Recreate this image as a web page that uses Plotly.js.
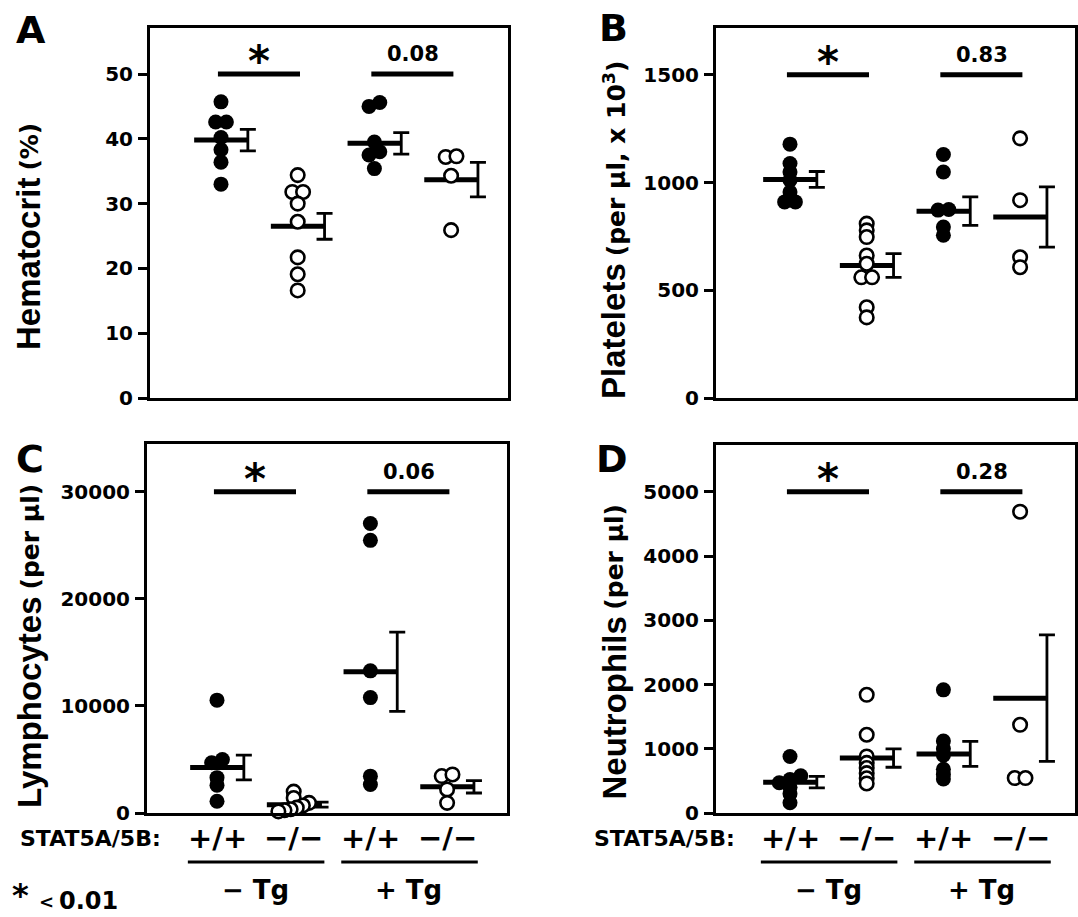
<!DOCTYPE html>
<html>
<head>
<meta charset="utf-8">
<script src="https://cdn.plot.ly/plotly-3.0.1.min.js"></script>
<style>html,body{margin:0;padding:0;background:#fff;}#chart{width:1078px;height:917px;}</style>
</head>
<body>
<div id="chart"></div>
<script>
// ---------------- DATA ----------------
const groupLabels = ['+/+', '\u2212/\u2212', '+/+', '\u2212/\u2212'];
const tgLabels = ['\u2212 Tg', '+ Tg'];
const genotypeLabel = 'STAT5A/5B:';
const footStar = '*';
const footLess = '<';
const footValue = '0.01';

// y-axis titles: main word and unit
const titleMain = ['Hematocrit', 'Platelets', 'Lymphocytes', 'Neutrophils'];
const titleUnit = ['(%)', '(per \u00b5l, x 10<sup>3</sup>)', '(per \u00b5l)', '(per \u00b5l)'];

// Panel A: Hematocrit (%)
const hctG1 = [45.7, 42.6, 42.6, 40.2, 38.3, 36.4, 33.0];
const hctG2 = [34.4, 31.8, 31.8, 30.0, 27.2, 21.7, 19.1, 16.6];
const hctG3 = [45.6, 45.0, 39.5, 38.0, 37.5, 35.4];
const hctG4 = [37.2, 37.3, 34.3, 25.9];
const hctMean = [39.8, 26.5, 39.3, 33.7];
const hctSem = [1.65, 2.0, 1.65, 2.65];
const hctP = ['*', '0.08'];
const hctTicks = [0, 10, 20, 30, 40, 50];

// Panel B: Platelets (per ul x 10^3)
const pltG1 = [1178, 1088, 1049, 1011, 956, 910, 910];
const pltG2 = [809, 778, 747, 661, 623, 560, 560, 421, 374];
const pltG3 = [1130, 1049, 875, 872, 793, 755];
const pltG4 = [1205, 918, 653, 607];
const pltMean = [1014, 615, 867, 840];
const pltSem = [37, 55, 66, 140];
const pltP = ['*', '0.83'];
const pltTicks = [0, 500, 1000, 1500];

// Panel C: Lymphocytes (per ul)
const lymG1 = [10540, 5000, 4700, 3300, 2600, 1100];
const lymG2 = [2000, 1400, 950, 700, 500, 350, 250, 150];
const lymG3 = [27040, 25470, 13280, 10780, 3440, 2660];
const lymG4 = [3450, 3600, 2200, 950];
const lymMean = [4250, 780, 13200, 2450];
const lymSem = [1150, 230, 3700, 580];
const lymP = ['*', '0.06'];
const lymTicks = [0, 10000, 20000, 30000];

// Panel D: Neutrophils (per ul)
const neuG1 = [880, 580, 520, 470, 400, 300, 160];
const neuG2 = [1840, 1218, 880, 780, 700, 620, 540, 460];
const neuG3 = [1917, 1120, 1000, 900, 680, 600, 530];
const neuG4 = [4690, 1373, 544, 544];
const neuMean = [480, 855, 920, 1788];
const neuSem = [90, 143, 195, 985];
const neuP = ['*', '0.28'];
const neuTicks = [0, 1000, 2000, 3000, 4000, 5000];

// ---------------- LAYOUT HELPERS ----------------
const W = 1078, H = 917;
const FONT = 'DejaVu Sans';
const TFONT = 'Liberation Sans';
const px = x => x / W;
const py = y => 1 - y / H;
const B = s => '<b>' + s + '</b>';

const ctx = document.createElement('canvas').getContext('2d');
function textWidth(s, size, family) {
  ctx.font = 'bold ' + size + 'px "' + family + '"';
  return ctx.measureText(s).width;
}

const panels = [
  {key:'', letter:'A', box:[150,508,28,398], g1px:221, yTop:57.1, groups:[hctG1,hctG2,hctG3,hctG4], mean:hctMean, sem:hctSem, p:hctP, ticks:hctTicks, sigLevel:50,
   titleX:29, titleBottom:352, letterPos:[31,30]},
  {key:'2', letter:'B', box:[716,1075,28,398], g1px:790, yTop:1717, groups:[pltG1,pltG2,pltG3,pltG4], mean:pltMean, sem:pltSem, p:pltP, ticks:pltTicks, sigLevel:1500,
   titleX:614, titleBottom:401, letterPos:[613,28]},
  {key:'3', letter:'C', box:[147,507,444,813], g1px:217, yTop:34470, groups:[lymG1,lymG2,lymG3,lymG4], mean:lymMean, sem:lymSem, p:lymP, ticks:lymTicks, sigLevel:30000,
   titleX:29, titleBottom:810, letterPos:[30,459], bottom:true, genoRight:163},
  {key:'4', letter:'D', box:[716,1075,445,813], g1px:790, yTop:5728, groups:[neuG1,neuG2,neuG3,neuG4], mean:neuMean, sem:neuSem, p:neuP, ticks:neuTicks, sigLevel:5000,
   titleX:614, titleBottom:802, letterPos:[612,459], bottom:true, genoRight:737}
];

const SPACING = 76.7; // px per group
const TMAIN = 33, TUNIT = 25;

function swarmOffsets(vals, pxPerUnit) {
  const idx = vals.map((v,i)=>i).sort((a,b)=>vals[a]-vals[b]);
  const offs = new Array(vals.length).fill(0);
  let row = [idx[0]];
  const flush = () => {
    const k = row.length;
    if (k > 1) {
      const step = Math.min(0.14, 0.4/(k-1));
      row.forEach((j,i)=>{ offs[j] = (i-(k-1)/2)*step; });
    }
  };
  for (let n=1;n<idx.length;n++){
    const j = idx[n], prev = idx[n-1];
    if ((vals[j]-vals[prev])*pxPerUnit < 4) row.push(j); else { flush(); row=[j]; }
  }
  flush();
  return offs;
}

const traces = [];
const shapes = [];
const annotations = [];
const layout = {
  width: W, height: H,
  margin: {l:0, r:0, t:0, b:0},
  paper_bgcolor: '#fff', plot_bgcolor: '#fff',
  showlegend: false,
  shapes: shapes, annotations: annotations
};

panels.forEach((P, pi) => {
  const [l, r, t, b] = P.box;
  const xa = 'x' + P.key, ya = 'y' + P.key;
  const xr = [1 - (P.g1px - l)/SPACING, 1 + (r - P.g1px)/SPACING];
  layout['xaxis' + P.key] = {
    domain:[px(l), px(r)], range: xr, anchor: ya,
    showline:true, mirror:true, linewidth:3, linecolor:'#000',
    showgrid:false, zeroline:false, showticklabels:false, ticks:'', fixedrange:true
  };
  layout['yaxis' + P.key] = {
    domain:[py(b), py(t)], range:[0, P.yTop], anchor: xa,
    showline:true, mirror:true, linewidth:3, linecolor:'#000',
    showgrid:false, zeroline:false,
    ticks:'outside', ticklen:9, tickwidth:3, tickcolor:'#000',
    tickmode:'array', tickvals:P.ticks, ticktext:P.ticks.map(v => B(String(v))),
    tickfont:{family:FONT, size:20, color:'#000'},
    ticklabelstandoff: 1, fixedrange:true
  };
  const pxPerUnit = (b - t) / P.yTop;

  // mean lines
  const mx = [], my = [];
  P.mean.forEach((m,i)=>{ mx.push(i+1-0.35, i+1+0.35, null); my.push(m, m, null); });
  traces.push({type:'scatter', mode:'lines', x:mx, y:my, xaxis:xa, yaxis:ya,
    line:{color:'#000', width:5}, hoverinfo:'skip', cliponaxis:false});
  // SEM bars
  traces.push({type:'scatter', mode:'markers', x:P.mean.map((m,i)=>i+1+0.35), y:P.mean, xaxis:xa, yaxis:ya,
    marker:{size:1, color:'rgba(0,0,0,0)'},
    error_y:{type:'data', array:P.sem, visible:true, color:'#000', thickness:2.8, width:8},
    hoverinfo:'skip', cliponaxis:false});
  // points
  P.groups.forEach((vals, g) => {
    const offs = swarmOffsets(vals, pxPerUnit);
    const filled = g % 2 === 0;
    traces.push({type:'scatter', mode:'markers', xaxis:xa, yaxis:ya,
      x: vals.map((v,i)=> g+1+offs[i]), y: vals,
      marker: filled ? {size:15, color:'#000', line:{width:0}} : {size:13.5, color:'#fff', line:{color:'#000', width:2.6}},
      hoverinfo:'skip', cliponaxis:false});
  });
  // significance bars and labels
  [[1,2],[3,4]].forEach((pair, k) => {
    shapes.push({type:'line', xref:xa, yref:ya, x0:pair[0]-0.04, x1:pair[1]+0.03, y0:P.sigLevel, y1:P.sigLevel,
      line:{color:'#000', width:5}});
    const isStar = P.p[k] === '*';
    annotations.push({xref:xa, yref:ya, x:(pair[0]+pair[1])/2, y:P.sigLevel, yanchor:'bottom', yshift: isStar ? -14 : 6,
      text: B(P.p[k]), showarrow:false,
      font:{family:FONT, size: isStar ? 42 : 21, color:'#000'}});
  });
  // panel letter
  annotations.push({xref:'paper', yref:'paper', x:px(P.letterPos[0]), y:py(P.letterPos[1]), xanchor:'center', yanchor:'middle',
    text:B(P.letter), showarrow:false, font:{family:FONT, size:38, color:'#000'}});
  // y title: main word + smaller unit, stacked along the rotated baseline
  const wMain = textWidth(titleMain[pi], TMAIN, TFONT);
  const wGap = 7;
  annotations.push({xref:'paper', yref:'paper', x:px(P.titleX), y:py(P.titleBottom), xanchor:'center', yanchor:'bottom',
    textangle:-90, text:B(titleMain[pi]), showarrow:false, font:{family:TFONT, size:TMAIN, color:'#000'}});
  annotations.push({xref:'paper', yref:'paper', x:px(P.titleX + 1), y:py(P.titleBottom - wMain - wGap), xanchor:'center', yanchor:'bottom',
    textangle:-90, text:B(titleUnit[pi]), showarrow:false, font:{family:FONT, size:TUNIT, color:'#000'}});

  if (P.bottom) {
    annotations.push({xref:'paper', yref:'paper', x:px(P.genoRight), y:py(838), xanchor:'right', yanchor:'middle',
      text:B(genotypeLabel), showarrow:false, font:{family:FONT, size:22, color:'#000'}});
    groupLabels.forEach((lab, g) => {
      annotations.push({xref:xa, yref:'paper', x:g+1, y:py(838), xanchor:'center', yanchor:'middle',
        text:B(lab), showarrow:false, font:{family:FONT, size:29, color:'#000'}});
    });
    tgLabels.forEach((lab, k) => {
      shapes.push({type:'line', xref:xa, yref:'paper', x0:2*k+1-0.38, x1:2*k+2+0.40, y0:py(862), y1:py(862),
        line:{color:'#000', width:3}});
      annotations.push({xref:xa, yref:'paper', x:2*k+1.5, y:py(890), xanchor:'center', yanchor:'middle',
        text:B(lab), showarrow:false, font:{family:FONT, size:26, color:'#000'}});
    });
  }
});

// footnote under panel C
annotations.push({xref:'paper', yref:'paper', x:px(10), y:py(916), xanchor:'left', yanchor:'bottom',
  text:B(footStar), showarrow:false, font:{family:FONT, size:32, color:'#000'}});
annotations.push({xref:'paper', yref:'paper', x:px(37), y:py(901), xanchor:'left', yanchor:'middle',
  text:B(footLess), showarrow:false, font:{family:FONT, size:18, color:'#000'}});
annotations.push({xref:'paper', yref:'paper', x:px(57), y:py(901), xanchor:'left', yanchor:'middle',
  text:B(footValue), showarrow:false, font:{family:FONT, size:24, color:'#000'}});

Plotly.newPlot('chart', traces, layout, {staticPlot:true, displayModeBar:false});
</script>
</body>
</html>
